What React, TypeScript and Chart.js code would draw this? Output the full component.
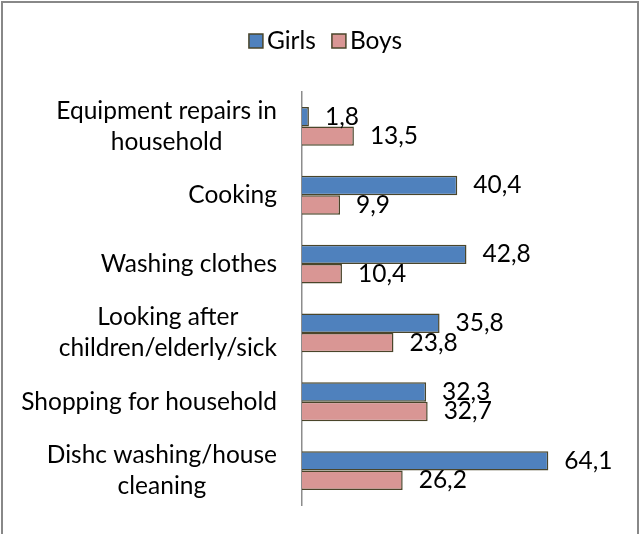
import React, { useEffect, useRef } from "react";
import { Chart, registerables } from "chart.js";

Chart.register(...registerables);

const categories: string[][] = [
  ["Equipment repairs in", "household"],
  ["Cooking"],
  ["Washing clothes"],
  ["Looking after", "children/elderly/sick"],
  ["Shopping for household"],
  ["Dishc washing/house", "cleaning"],
];
const girls = [1.8, 40.4, 42.8, 35.8, 32.3, 64.1];
const boys = [13.5, 9.9, 10.4, 23.8, 32.7, 26.2];
const seriesNames = ["Girls", "Boys"];

const FONT = "Lato, 'Open Sans', sans-serif";
const FS = 24.5;

const framePlugin = {
  id: "frame",
  beforeDraw(chart: any) {
    const ctx = chart.ctx;
    ctx.save();
    ctx.fillStyle = "#ffffff";
    ctx.fillRect(0, 0, chart.width, chart.height);
    ctx.strokeStyle = "#888888";
    ctx.lineWidth = 2;
    ctx.strokeRect(2, 2, chart.width - 3, chart.height + 50);
    ctx.restore();
  },
};

const textPlugin = {
  id: "texts",
  afterDraw(chart: any) {
    const ctx = chart.ctx;
    const yScale = chart.scales.y;
    ctx.save();
    ctx.font = `${FS}px ${FONT}`;
    ctx.fillStyle = "#000000";
    ctx.textBaseline = "middle";
    const lineH = 31;
    const rightEdge = chart.chartArea.left - 25;
    categories.forEach((lines, i) => {
      const yc = yScale.getPixelForValue(i);
      const w = Math.max(...lines.map((l) => ctx.measureText(l).width));
      const cx = rightEdge - w / 2;
      ctx.textAlign = "center";
      const y0 = yc - ((lines.length - 1) * lineH) / 2;
      lines.forEach((l, k) => ctx.fillText(l, cx, y0 + k * lineH));
    });
    ctx.textAlign = "left";
    chart.data.datasets.forEach((ds: any, di: number) => {
      const meta = chart.getDatasetMeta(di);
      meta.data.forEach((bar: any, i: number) => {
        const v = ds.data[i];
        ctx.fillText(String(v).replace(".", ","), bar.x + 16, bar.y);
      });
    });
    const items = chart.data.datasets.map((ds: any) => ({
      text: ds.label,
      fill: ds.backgroundColor,
      border: ds.borderColor,
    }));
    const box = 14;
    const gapBoxText = 4;
    const gapItems = 16;
    const widths = items.map((it: any) => box + gapBoxText + ctx.measureText(it.text).width);
    const total = widths.reduce((a: number, b: number) => a + b, 0) + gapItems * (items.length - 1);
    let x = (chart.width - total) / 2 + 6;
    const ly = 41;
    items.forEach((it: any, k: number) => {
      ctx.fillStyle = it.fill;
      ctx.fillRect(x, ly - box / 2, box, box);
      ctx.strokeStyle = it.border;
      ctx.lineWidth = 1.5;
      ctx.strokeRect(x, ly - box / 2, box, box);
      ctx.fillStyle = "#000000";
      ctx.fillText(it.text, x + box + gapBoxText, ly);
      x += widths[k] + gapItems;
    });
    ctx.restore();
  },
};

export default function App() {
  const ref = useRef<HTMLCanvasElement | null>(null);
  useEffect(() => {
    document.body.style.margin = "0";
    if (!ref.current) return;
    const chart = new Chart(ref.current, {
      type: "bar",
      data: {
        labels: categories.map((c) => c.join(" ")),
        datasets: [
          {
            label: seriesNames[0],
            data: girls,
            backgroundColor: "#4F81BD",
            borderColor: "#4A452A",
            borderWidth: 1.5,
          },
          {
            label: seriesNames[1],
            data: boys,
            backgroundColor: "#D99694",
            borderColor: "#4A452A",
            borderWidth: 1.5,
          },
        ],
      },
      options: {
        indexAxis: "y",
        responsive: false,
        animation: false,
        layout: { padding: { top: 92, bottom: 29, left: 0, right: 68 } },
        datasets: { bar: { categoryPercentage: 0.565, barPercentage: 1 } },
        plugins: { legend: { display: false }, tooltip: { enabled: false } },
        scales: {
          x: { display: false, min: 0, max: 70 },
          y: {
            grid: { display: false },
            border: { display: true, color: "#8C8C8C", width: 1.5 },
            ticks: { display: false },
            afterFit: (s: any) => {
              s.width = 302;
            },
          },
        },
      } as any,
      plugins: [framePlugin, textPlugin],
    });
    return () => chart.destroy();
  }, []);
  return (
    <div style={{ width: 639, height: 534 }}>
      <canvas ref={ref} width={639} height={534} />
    </div>
  );
}
